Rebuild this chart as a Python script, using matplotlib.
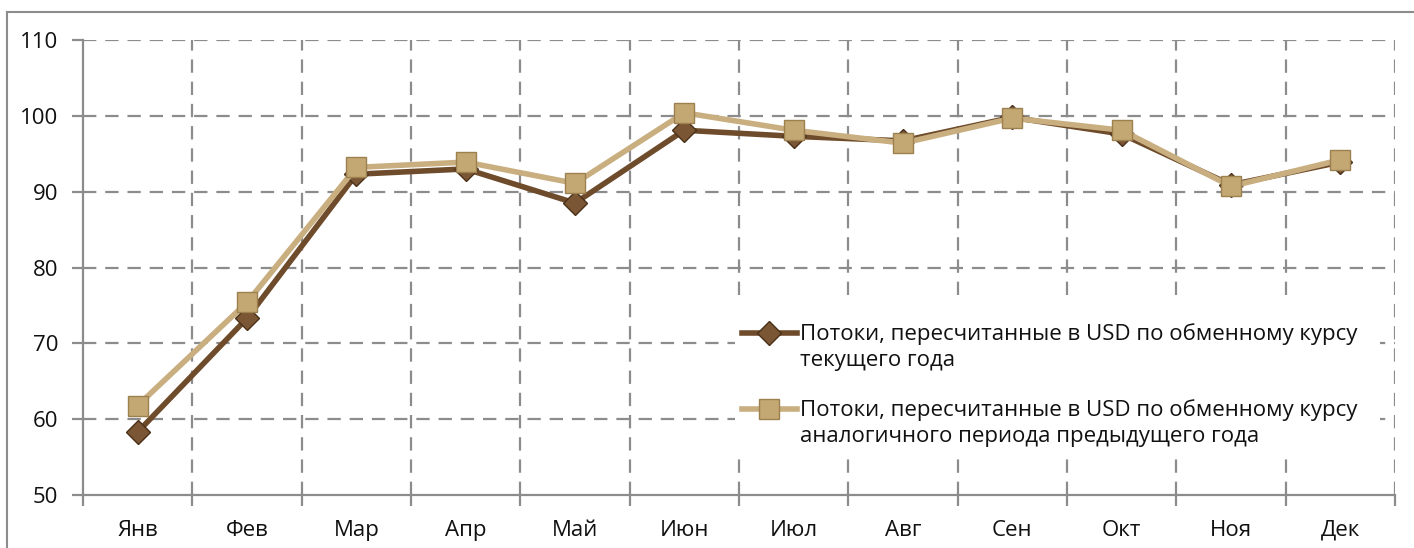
import matplotlib
matplotlib.use("Agg")
import matplotlib.pyplot as plt
from matplotlib.lines import Line2D
from matplotlib.patches import Rectangle

months = ["Янв", "Фев", "Мар", "Апр", "Май", "Июн", "Июл", "Авг", "Сен", "Окт", "Ноя", "Дек"]
current_rate = [58.3, 73.3, 92.3, 93.0, 88.5, 98.1, 97.3, 96.7, 99.8, 97.6, 90.9, 93.9]
prev_rate = [61.8, 75.4, 93.2, 93.9, 91.1, 100.4, 98.1, 96.4, 99.7, 98.1, 90.7, 94.2]
label_current = "Потоки, пересчитанные в USD по обменному курсу\nтекущего года"
label_prev = "Потоки, пересчитанные в USD по обменному курсу\nаналогичного периода предыдущего года"

plt.rcParams['font.family'] = ['Open Sans', 'DejaVu Sans']

W, H = 1414, 548
fig = plt.figure(figsize=(W/100, H/100), dpi=100)
ax = fig.add_axes([83/W, 1-495/H, (1395-83)/W, (495-40)/H])

dark = "#6e4b2a"
dark_edge = "#4a3018"
dark_face = "#7a5634"
light = "#c9ae80"
light_edge = "#9c8050"
light_face = "#c4a874"

x = list(range(len(months)))
dark_style = dict(color=dark, lw=4, marker="D", ms=12, markerfacecolor=dark_face,
                  markeredgecolor=dark_edge, markeredgewidth=1)
light_style = dict(color=light, lw=4, marker="s", ms=15, markerfacecolor=light_face,
                   markeredgecolor=light_edge, markeredgewidth=1)
ax.plot(x, current_rate, zorder=3, **dark_style)
ax.plot(x, prev_rate, zorder=4, **light_style)

ax.set_xlim(-0.5, 11.5)
ax.set_ylim(50, 110)
ax.set_yticks(range(50, 111, 10))
ax.set_xticks(x)
ax.set_xticklabels(months)
ax.set_xticks([i + 0.5 for i in range(-1, 12)], minor=True)

grid_color = "#8c8c8c"
dash = (0, (6, 4))
for yv in range(60, 111, 10):
    ax.axhline(yv, color=grid_color, lw=1.6, ls=dash, zorder=1)
for xv in [i + 0.5 for i in range(0, 12)]:
    ax.axvline(xv, color=grid_color, lw=1.6, ls=dash, zorder=1)

for s in ["top", "right"]:
    ax.spines[s].set_visible(False)
for s in ["left", "bottom"]:
    ax.spines[s].set_color(grid_color)
    ax.spines[s].set_linewidth(1.6)

ax.tick_params(axis="y", which="major", length=8, width=1.6, color=grid_color,
               labelsize=16, pad=10, labelcolor="#111111")
ax.tick_params(axis="x", which="major", length=0, labelsize=16, pad=18, labelcolor="#111111")
ax.tick_params(axis="x", which="minor", length=8, width=1.6, color=grid_color)

# legend (manual, handle aligned to first text line)
ft = fig.transFigure
fig.add_artist(Rectangle((735/W, 1-452/H), (1380-735)/W, (452-302)/H, transform=ft,
                         facecolor="white", edgecolor="none", zorder=2))
for yline, style, label in [(333, dark_style, label_current), (409, light_style, label_prev)]:
    fig.add_artist(Line2D([742/W, 797/W], [1-yline/H]*2, transform=ft, zorder=6,
                          **{**style, 'marker': None}))
    fig.add_artist(Line2D([769/W], [1-yline/H], transform=ft, zorder=7, lw=0,
                          **{k: v for k, v in style.items() if k not in ('lw', 'color')}))
    fig.text(800/W, 1-(yline - 10)/H, label, transform=ft, fontsize=16, va="top", ha="left",
             color="#111111", linespacing=1.35, zorder=7)

# outer frame lines (top and left)
fig.add_artist(Line2D([7/W, 1], [1-12/H, 1-12/H], color="#8c8c8c", lw=1.5, transform=ft))
fig.add_artist(Line2D([7/W, 7/W], [0, 1-12/H], color="#8c8c8c", lw=1.5, transform=ft))

fig.savefig("out.png", dpi=100)
